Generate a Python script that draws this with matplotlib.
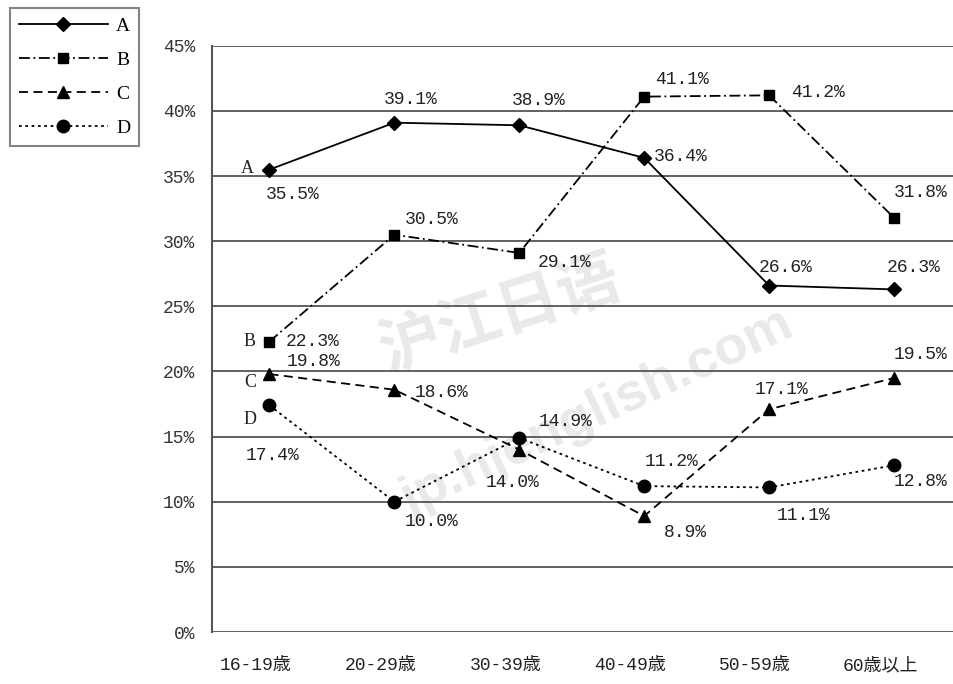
import matplotlib
matplotlib.use("Agg")
import matplotlib.pyplot as plt
import matplotlib.transforms as mtransforms

plt.rcParams['font.family'] = ['Liberation Mono', 'Noto Sans CJK JP']

# --- data ---
categories = ['16-19歳', '20-29歳', '30-39歳', '40-49歳', '50-59歳', '60歳以上']
series_names = ['A', 'B', 'C', 'D']
vals_a = [35.5, 39.1, 38.9, 36.4, 26.6, 26.3]
vals_b = [22.3, 30.5, 29.1, 41.1, 41.2, 31.8]
vals_c = [19.8, 18.6, 14.0, 8.9, 17.1, 19.5]
vals_d = [17.4, 10.0, 14.9, 11.2, 11.1, 12.8]
y_ticks = [0, 5, 10, 15, 20, 25, 30, 35, 40, 45]

# --- styles ---
styles = {
    'A': dict(ls='-', marker='D', ms=7),
    'B': dict(ls=(0, (6, 2, 1, 2)), marker='s', ms=7),
    'C': dict(ls=(0, (5, 3)), marker='^', ms=8),
    'D': dict(ls=(0, (1.5, 2)), marker='o', ms=9),
}
# label offsets in points (dx, dy)
offsets = {
    'A': [(17, -18), (12, 17), (14, 18), (26, 1), (12, 13), (14, 16)],
    'B': [(31, 0), (27, 11), (33, -7), (27, 12), (35, 2), (19, 18)],
    'C': [(32, 9), (34, -2), (-5, -24), (30, -12), (9, 14), (19, 17)],
    'D': [(2, -36), (27, -14), (33, 12), (20, 18), (25, -20), (19, -12)],
}
letter_offsets = {'A': (-16, 1), 'B': (-14, 0), 'C': (-14, -6), 'D': (-14, -10)}

fig = plt.figure(figsize=(9.54, 6.84), dpi=100)
ax = fig.add_axes([0.2222, 0.076, 0.7778, 0.857])

# watermark
ax.text(0.524, 0.54, '沪江日语', transform=fig.transFigure, fontsize=45, color='#e9e9e9',
        rotation=18, ha='center', va='center', fontweight='bold',
        family=['Noto Sans CJK SC'], zorder=0.5)
ax.text(0.626, 0.398, 'jp.hjenglish.com', transform=fig.transFigure, fontsize=39,
        color='#e9e9e9', rotation=25, ha='center', va='center', fontweight='bold',
        family=['Liberation Sans'], zorder=0.5)

x = list(range(len(categories)))
data = {'A': vals_a, 'B': vals_b, 'C': vals_c, 'D': vals_d}
handles = []
for name in series_names:
    st = styles[name]
    h, = ax.plot(x, data[name], color='black', lw=1.3, linestyle=st['ls'],
                 marker=st['marker'], ms=st['ms'], zorder=3)
    handles.append(h)
    for i, v in enumerate(data[name]):
        dx, dy = offsets[name][i]
        ax.annotate(f'{v:.1f}%', (i, v), xytext=(dx, dy), textcoords='offset points',
                    ha='center', va='center', fontsize=13, color='#222222', zorder=4)
    lx, ly = letter_offsets[name]
    ax.annotate(name, (0, data[name][0]), xytext=(lx, ly), textcoords='offset points',
                ha='center', va='center', fontsize=13, color='#222222',
                family=['Liberation Serif'])

ax.set_xlim(-0.46, 5.48)
ax.set_ylim(0, 45)
ax.set_yticks(y_ticks)
ax.set_yticklabels([f'{t}%' for t in y_ticks], fontsize=13, color='#333333')
ax.set_xticks(x)
ax.set_xticklabels(categories, fontsize=13, color='#222222')
ax.tick_params(axis='y', length=0, pad=12)
ax.tick_params(axis='x', length=0, pad=18)
# category labels sit a little left of their points in the original
shift = mtransforms.ScaledTranslation(-14 / 100, 0, fig.dpi_scale_trans)
for lab in ax.get_xticklabels():
    lab.set_transform(lab.get_transform() + shift)
for t in y_ticks:
    ax.axhline(t, color='#555555', lw=1.3, zorder=1)
for s in ['top', 'right', 'bottom']:
    ax.spines[s].set_visible(False)
ax.spines['left'].set_color('#555555')
ax.spines['left'].set_linewidth(1.5)

leg = fig.legend(handles, series_names, loc='upper left', bbox_to_anchor=(0.0105, 0.988),
                 borderaxespad=0, frameon=True, fancybox=False, edgecolor='#666666',
                 prop={'family': 'Liberation Serif', 'size': 14},
                 handlelength=4.6, handletextpad=0.4, labelspacing=0.85, borderpad=0.45)
leg.get_frame().set_linewidth(1.5)

fig.savefig('out.png', dpi=100)
